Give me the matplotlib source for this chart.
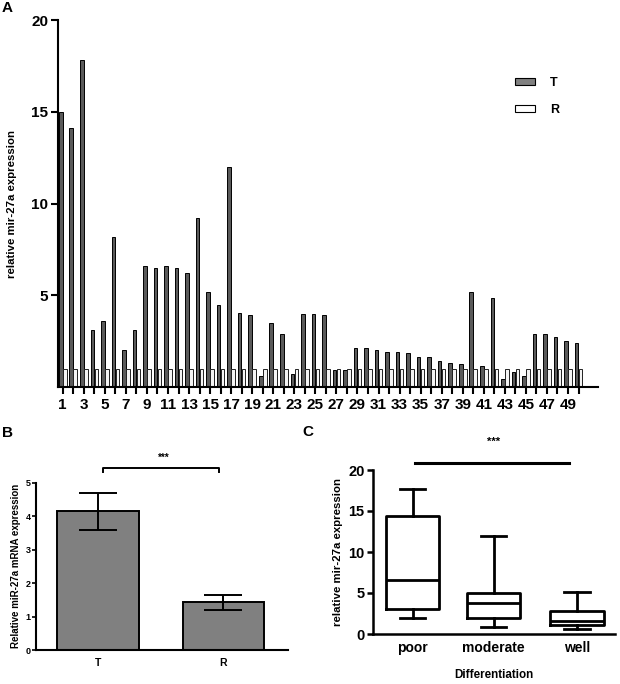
import numpy as np
import matplotlib
import matplotlib.pyplot as plt
from matplotlib.patches import Patch

matplotlib.use('agg')

plt.rcParams['font.family'] = ['Liberation Sans', 'DejaVu Sans']
plt.rcParams['font.weight'] = 'bold'
plt.rcParams['axes.labelweight'] = 'bold'

# panel A: per-patient relative expression, tumour (T) vs reference (R)
patients = np.arange(1, 51)
tumour = [15.0, 14.1, 17.8, 3.1, 3.6, 8.2, 2.0, 3.1, 6.6, 6.5,
          6.6, 6.5, 6.2, 9.2, 5.2, 4.45, 12.0, 4.05, 3.95, 0.6,
          3.5, 2.9, 0.7, 4.0, 3.98, 3.95, 0.95, 0.93, 2.1, 2.1,
          2.0, 1.93, 1.91, 1.86, 1.66, 1.66, 1.4, 1.29, 1.27, 5.17,
          1.15, 4.87, 0.42, 0.8, 0.6, 2.89, 2.87, 2.73, 2.49, 2.42]
reference = [1.0] * 50
a_tick_labels = [str(p) if p % 2 == 1 else '' for p in patients]

# panel B: mean +/- error
b_groups = ['T', 'R']
b_means = [4.14, 1.42]
b_errors = [0.55, 0.21]

# panel C: box plot five-number summaries by differentiation
c_groups = ['poor', 'moderate', 'well']
c_min = [2.0, 0.9, 0.58]
c_q1 = [3.1, 1.9, 1.12]
c_median = [6.6, 3.75, 1.62]
c_q3 = [14.4, 5.0, 2.85]
c_max = [17.7, 11.95, 5.15]

W, H = 620, 684
fig = plt.figure(figsize=(W / 100, H / 100), dpi=100)


def axes_px(left, top, right, bottom):
    return fig.add_axes([left / W, 1 - bottom / H, (right - left) / W, (bottom - top) / H])


# ---------------- panel A ----------------
ax = axes_px(58, 20, 598, 387)
off = 0.19
ax.bar(patients - off, tumour, width=0.34, color='#5a5a5a', edgecolor='black', linewidth=0.7)
ax.bar(patients + off, reference, width=0.34, color='#f4f4f4', edgecolor='#222222', linewidth=0.7)
ax.set_xlim(0.55, 51.85)
ax.set_ylim(0, 20)
ax.set_yticks([5, 10, 15, 20])
ax.set_xticks(patients)
ax.set_xticklabels(a_tick_labels)
ax.tick_params(axis='both', labelsize=11, width=1.5, length=5, pad=2)
ax.tick_params(axis='x', pad=3)
for s in ['top', 'right']:
    ax.spines[s].set_visible(False)
for s in ['left', 'bottom']:
    ax.spines[s].set_linewidth(1.5)
ax.set_ylabel('relative mir-27a expression', fontsize=8.2, labelpad=10)
handles = [Patch(facecolor='#808080', edgecolor='black', linewidth=0.8, label='T'),
           Patch(facecolor='white', edgecolor='black', linewidth=0.8, label='R')]
ax.legend(handles=handles, loc='upper left', bbox_to_anchor=(0.846, 0.845), frameon=False,
          fontsize=9, handlelength=1.6, handleheight=0.6, labelspacing=1.2,
          handletextpad=1.2, borderpad=0, borderaxespad=0)
fig.text(2 / W, 1 - 12 / H, 'A', fontsize=11, fontweight='bold')

# ---------------- panel B ----------------
bx = axes_px(36, 482.7, 288, 650)
xb = np.arange(len(b_groups))
bx.bar(xb, b_means, width=0.653, color='#808080', edgecolor='black', linewidth=1.4)
bx.errorbar(xb, b_means, yerr=b_errors, fmt='none', ecolor='black', elinewidth=1.4,
            capsize=13.5, capthick=1.4)
bx.set_xlim(-0.494, 1.514)
bx.set_ylim(0, 5)
bx.set_yticks([0, 1, 2, 3, 4, 5])
bx.set_xticks(xb)
bx.set_xticklabels(b_groups)
bx.tick_params(axis='y', labelsize=6.5, width=1.2, length=3, pad=1)
bx.tick_params(axis='x', labelsize=7.5, length=0, pad=6)
for s in ['top', 'right']:
    bx.spines[s].set_visible(False)
for s in ['left', 'bottom']:
    bx.spines[s].set_linewidth(1.5)
bx.set_ylabel('Relative miR-27a mRNA expression', fontsize=7, labelpad=3)
bx.plot([0.04, 0.04, 0.964, 0.964], [5.33, 5.45, 5.45, 5.33], color='black', lw=1.4,
        clip_on=False)
bx.text(0.52, 5.75, '***', ha='center', va='center', fontsize=7)
fig.text(2 / W, 1 - 437 / H, 'B', fontsize=11, fontweight='bold')

# ---------------- panel C ----------------
cx = axes_px(373, 470, 615, 634)
stats = []
for i, g in enumerate(c_groups):
    stats.append({'label': g, 'whislo': c_min[i], 'q1': c_q1[i], 'med': c_median[i],
                  'q3': c_q3[i], 'whishi': c_max[i], 'fliers': []})
lw = 2.0
cx.bxp(stats, positions=[1, 2.0, 3.03], widths=0.66, capwidths=0.31, showfliers=False,
       boxprops=dict(color='black', linewidth=lw),
       whiskerprops=dict(color='black', linewidth=lw),
       capprops=dict(color='black', linewidth=lw),
       medianprops=dict(color='black', linewidth=lw))
cx.set_xlim(0.51, 3.5)
cx.set_ylim(0, 20)
cx.set_yticks([0, 5, 10, 15, 20])
cx.tick_params(axis='y', labelsize=10.5, width=1.8, length=4, pad=2)
cx.tick_params(axis='x', labelsize=10, length=0, pad=5)
for s in ['top', 'right']:
    cx.spines[s].set_visible(False)
for s in ['left', 'bottom']:
    cx.spines[s].set_linewidth(1.8)
cx.set_ylabel('relative mir-27a expression', fontsize=8.2, labelpad=4)
cx.set_xlabel('Differentiation', fontsize=8.4, labelpad=10)
cx.plot([1.03, 2.93], [20.9, 20.9], color='black', lw=2.2, clip_on=False)
cx.text(2.0, 23.4, '***', ha='center', va='center', fontsize=8)
fig.text(302 / W, 1 - 436 / H, 'C', fontsize=11, fontweight='bold')

fig.savefig('out.png', dpi=100)
